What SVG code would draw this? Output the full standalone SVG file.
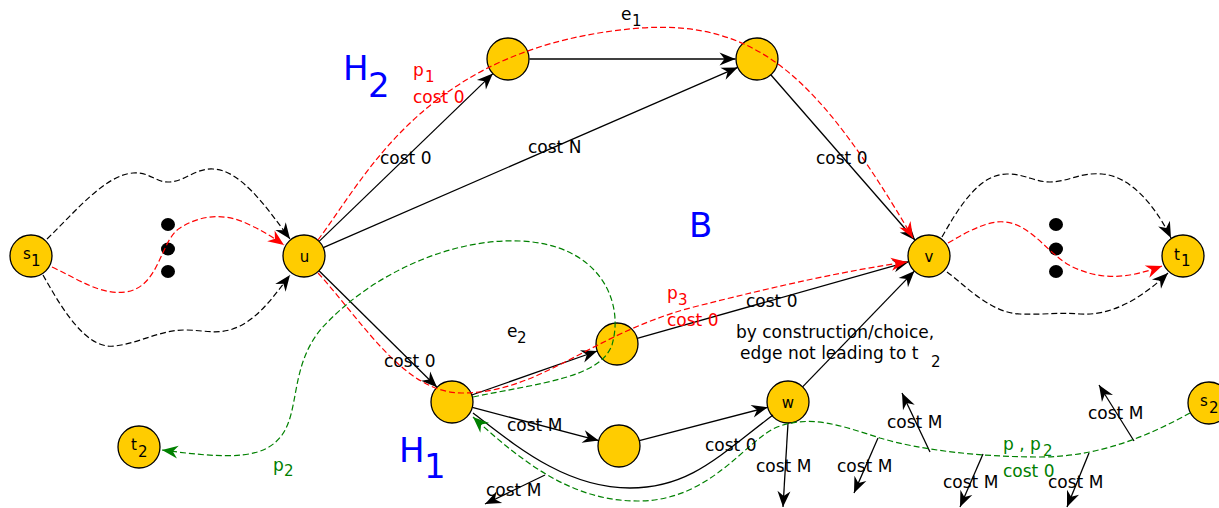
<svg xmlns="http://www.w3.org/2000/svg" width="1219" height="508" viewBox="0 0 1219 508">
<defs>
<style>
.node{fill:#ffcc00;stroke:#000;stroke-width:1.3}
.lbl{font-family:"DejaVu Sans",sans-serif;font-size:15px;fill:#000}
.t{font-family:"DejaVu Sans",sans-serif;font-size:17px;fill:#000}
.sub{font-size:15px}
.red{fill:#ff0000}
.grn{fill:#008000}
.blue{font-family:"DejaVu Sans",sans-serif;font-size:34px;fill:#0000ff}
.e{fill:none;stroke:#000;stroke-width:1.3}
.eb{fill:none;stroke:#000;stroke-width:1.2;stroke-dasharray:6,3}
.er{fill:none;stroke:#ff0000;stroke-width:1.2;stroke-dasharray:6,3}
.eg{fill:none;stroke:#008000;stroke-width:1.2;stroke-dasharray:6,3}
</style>
<marker id="ab" viewBox="-17 -8 18 16" refX="0" refY="0" markerWidth="18" markerHeight="16" markerUnits="userSpaceOnUse" orient="auto"><path d="M0,0 L-16,-6.5 L-11,0 L-16,6.5 Z" fill="#000"/></marker>
<marker id="ar" viewBox="-17 -8 18 16" refX="0" refY="0" markerWidth="18" markerHeight="16" markerUnits="userSpaceOnUse" orient="auto"><path d="M0,0 L-16,-6.5 L-11,0 L-16,6.5 Z" fill="#ff0000"/></marker>
<marker id="ag" viewBox="-17 -8 18 16" refX="0" refY="0" markerWidth="18" markerHeight="16" markerUnits="userSpaceOnUse" orient="auto"><path d="M0,0 L-16,-6.5 L-11,0 L-16,6.5 Z" fill="#008000"/></marker>
</defs>
<rect width="1219" height="508" fill="#fff"/>

<g id="node-s1"><circle class="node" cx="31" cy="256" r="21"/><text class="lbl" x="23" y="259">s</text><text class="lbl" x="31" y="266">1</text></g>
<g id="node-u"><circle class="node" cx="304" cy="256" r="21"/><text class="lbl" x="304.5" y="262" text-anchor="middle">u</text></g>
<g id="node-a"><circle class="node" cx="508" cy="59" r="21"/></g>
<g id="node-b"><circle class="node" cx="757" cy="59" r="21"/></g>
<g id="node-v"><circle class="node" cx="929" cy="256" r="21"/><text class="lbl" x="929" y="262" text-anchor="middle">v</text></g>
<g id="node-t1"><circle class="node" cx="1183" cy="256" r="21"/><text class="lbl" x="1174" y="260">t</text><text class="lbl" x="1181" y="266">1</text></g>
<g id="node-c"><circle class="node" cx="617" cy="344" r="21"/></g>
<g id="node-d"><circle class="node" cx="452" cy="402" r="21"/></g>
<g id="node-e"><circle class="node" cx="619" cy="446" r="21"/></g>
<g id="node-w"><circle class="node" cx="788" cy="402" r="21"/><text class="lbl" x="788" y="408" text-anchor="middle">w</text></g>
<g id="node-t2"><circle class="node" cx="139" cy="447" r="21"/><text class="lbl" x="131" y="450">t</text><text class="lbl" x="138" y="457">2</text></g>
<g id="node-s2"><circle class="node" cx="1209" cy="403" r="21"/><text class="lbl" x="1200" y="406">s</text><text class="lbl" x="1209" y="413">2</text></g>

<g id="dots">
<ellipse cx="168" cy="224.5" rx="7" ry="6.5"/><ellipse cx="168" cy="249" rx="7" ry="6.5"/><ellipse cx="168" cy="271.5" rx="7" ry="6.5"/>
<ellipse cx="1056" cy="224.5" rx="7" ry="6.5"/><ellipse cx="1056" cy="249" rx="7" ry="6.5"/><ellipse cx="1056" cy="271.5" rx="7" ry="6.5"/>
</g>

<g id="connectors">
<line class="e" x1="529.5" y1="59" x2="735.5" y2="59" marker-end="url(#ab)"/>
<line class="e" x1="319.1" y1="241.4" x2="492.9" y2="73.6" marker-end="url(#ab)"/>
<line class="e" x1="323.3" y1="247.6" x2="737.7" y2="67.4" marker-end="url(#ab)"/>
<line class="e" x1="770.8" y1="74.8" x2="915.2" y2="240.2" marker-end="url(#ab)"/>
<line class="e" x1="319" y1="270.7" x2="437" y2="387.3" marker-end="url(#ab)"/>
<line class="e" x1="471.8" y1="395" x2="597.2" y2="351" marker-end="url(#ab)"/>
<line class="e" x1="637.2" y1="338.3" x2="908.8" y2="261.7" marker-end="url(#ab)"/>
<line class="e" x1="472.3" y1="407.4" x2="598.7" y2="440.6" marker-end="url(#ab)"/>
<line class="e" x1="639.3" y1="440.7" x2="767.7" y2="407.3" marker-end="url(#ab)"/>
<line class="e" x1="802.6" y1="386.9" x2="914.4" y2="271.1" marker-end="url(#ab)"/>
<path class="e" d="M773,415 C720,455 690,488 630,488 C565,488 515,445 473,413"/>
<line class="e" x1="545" y1="475" x2="485" y2="504" marker-end="url(#ab)"/>
<line class="e" x1="788" y1="423" x2="783" y2="507" marker-end="url(#ab)"/>
<line class="e" x1="878" y1="438" x2="854" y2="493" marker-end="url(#ab)"/>
<line class="e" x1="930" y1="452" x2="902" y2="393" marker-end="url(#ab)"/>
<line class="e" x1="983" y1="454" x2="960" y2="507" marker-end="url(#ab)"/>
<line class="e" x1="1089" y1="453" x2="1067" y2="507" marker-end="url(#ab)"/>
<line class="e" x1="1134" y1="441" x2="1099" y2="385" marker-end="url(#ab)"/>

<path class="eb" d="M47,239 C75,212 105,175 133,173 C150,172 155,182 168,182 C185,182 195,168 213,169 C240,170 265,205 290,239" marker-end="url(#ab)"/>
<path class="eb" d="M43,275 C60,305 85,350 115,346 C140,343 160,330 185,330 C205,330 220,336 240,326 C260,316 275,295 290,275" marker-end="url(#ab)"/>
<path class="er" d="M52,267 C80,280 100,295 125,292 C160,288 160,240 180,228 C200,215 225,212 250,225 C265,232 274,238 284,245" marker-end="url(#ar)"/>
<path class="eb" d="M942,237 C960,205 980,174 1007,174 C1025,174 1035,182 1050,182 C1068,182 1080,172 1102,174 C1130,176 1155,205 1171,238" marker-end="url(#ab)"/>
<path class="eb" d="M947,272 C965,285 990,313 1020,314 C1045,315 1060,312 1080,314 C1110,316 1140,300 1168,273" marker-end="url(#ab)"/>
<path class="er" d="M948,243 C970,230 990,220 1005,222 C1035,225 1050,260 1080,270 C1105,280 1130,278 1162,266" marker-end="url(#ar)"/>

<path class="er" d="M318,240 C370,170 430,45 640,28 C760,20 820,80 913,238" marker-end="url(#ar)"/>
<path class="er" d="M318,273 C365,325 405,393 462,393 C540,393 590,335 690,308 C780,285 850,270 907,262" marker-end="url(#ar)"/>

<path class="eg" d="M1190,413 C1150,435 1100,457 1040,457 C980,457 920,450 880,438 C845,427 810,413 775,428 C745,442 710,500 640,501 C575,502 525,465 473,417" marker-end="url(#ag)"/>
<path class="eg" d="M473,397 C540,383 600,378 612,345 C625,300 598,244 520,241 C450,238 370,275 322,328 C290,365 300,410 282,435 C265,458 235,460 162,450" marker-end="url(#ag)"/>
</g>

<g id="labels">
<text class="blue" x="343" y="80">H</text><text class="blue" x="368" y="97">2</text>
<text class="blue" x="399" y="462">H</text><text class="blue" x="424" y="478">1</text>
<text class="blue" x="689" y="237">B</text>

<text class="t red" x="413" y="76">p</text><text class="t red sub" x="425" y="82">1</text>
<text class="t red" x="413" y="103">cost 0</text>
<text class="t" x="621" y="20">e</text><text class="t sub" x="632" y="26">1</text>
<text class="t" x="380" y="164">cost 0</text>
<text class="t" x="528" y="153">cost N</text>
<text class="t" x="816" y="164">cost 0</text>

<text class="t red" x="667" y="299">p</text><text class="t red sub" x="678" y="305">3</text>
<text class="t red" x="667" y="326">cost 0</text>
<text class="t" x="746" y="307">cost 0</text>
<text class="t" x="736" y="338">by construction/choice,</text>
<text class="t" x="740" y="359">edge not leading to t</text><text class="t sub" x="931" y="367">2</text>
<text class="t" x="507" y="337">e</text><text class="t sub" x="517" y="343">2</text>
<text class="t" x="384" y="367">cost 0</text>
<text class="t" x="507" y="431">cost M</text>
<text class="t" x="486" y="496">cost M</text>
<text class="t" x="705" y="451">cost 0</text>
<text class="t" x="756" y="472">cost M</text>
<text class="t" x="837" y="472">cost M</text>
<text class="t" x="887" y="428">cost M</text>
<text class="t" x="943" y="488">cost M</text>
<text class="t" x="1048" y="488">cost M</text>
<text class="t" x="1088" y="419">cost M</text>

<text class="t grn" x="1003" y="450">p , p</text><text class="t grn sub" x="1043" y="456">2</text>
<text class="t grn" x="1003" y="477">cost 0</text>
<text class="t grn" x="273" y="471">p</text><text class="t grn sub" x="284" y="476">2</text>
</g>
</svg>
